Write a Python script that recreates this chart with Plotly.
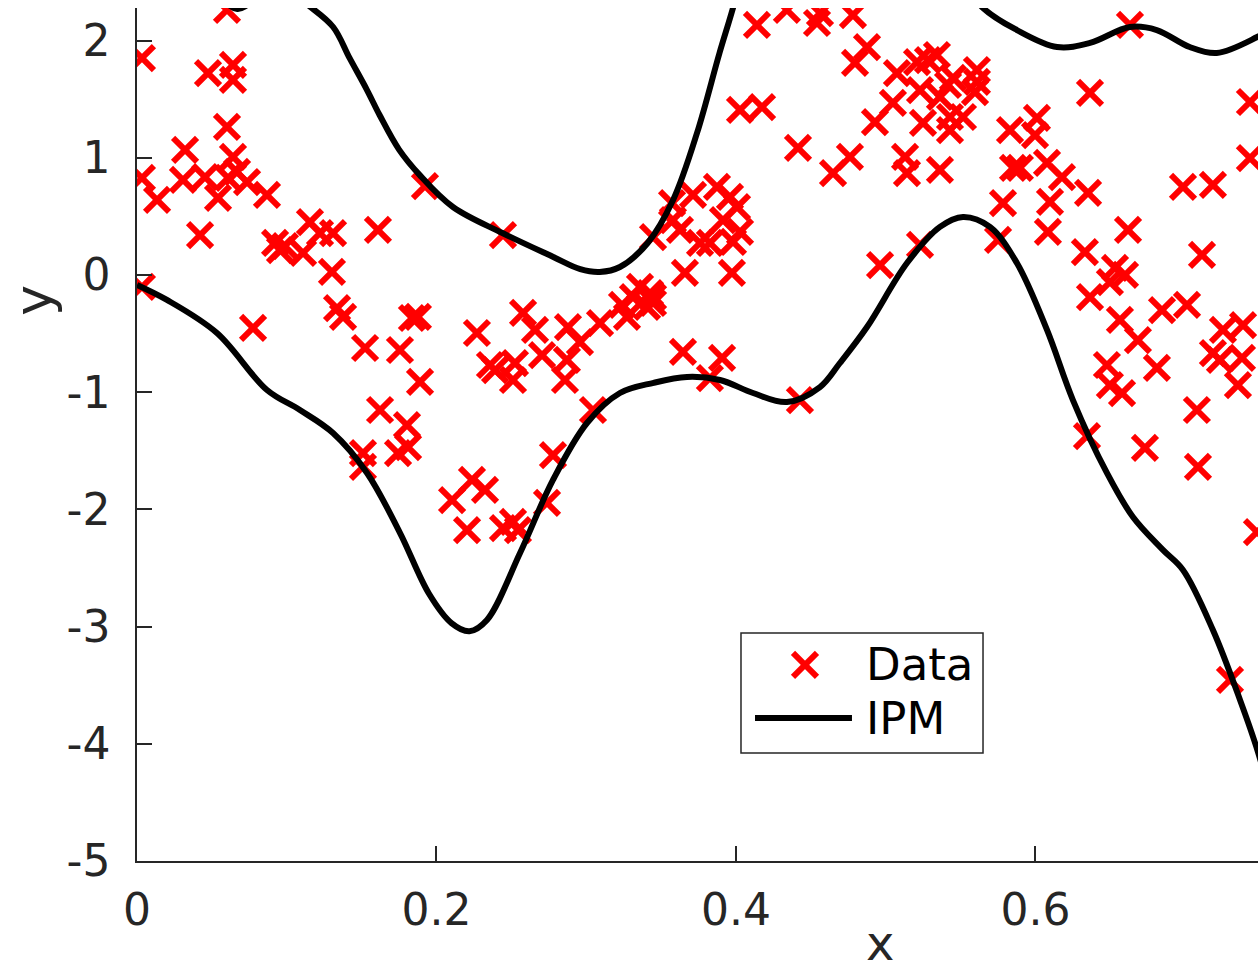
import plotly.graph_objects as go

# ---- scatter data (Data) ----
data_x = [0.0033,0.0601,0.0474,0.0641,0.0641,0.0601,0.0321,0.0033,0.0134,0.0307,0.0454,0.0541,0.0641,0.0668,0.0735,0.0608,0.0868,0.0421,0.0033,0.0922,0.0955,0.0988,0.1155,0.1222,0.1109,0.1309,0.1302,0.1609,0.0775,0.1336,0.1376,0.1523,0.1756,0.1836,0.1876,0.1890,0.1623,0.1803,0.1509,0.1509,0.1743,0.1810,0.1923,
          0.2444,0.2270,0.2357,0.2391,0.2524,0.2511,0.2578,0.2658,0.2705,0.2878,0.2871,0.2858,0.2958,0.3092,0.3272,0.3312,0.3426,0.3446,0.3359,0.3239,0.3406,0.3446,0.3045,0.3646,0.3907,0.3826,0.4427,0.2778,0.2237,0.2324,0.2104,0.2204,0.2444,0.2544,0.2511,0.2738,0.3873,0.3713,0.3573,0.3960,0.4007,0.3913,0.3579,0.3446,0.3626,0.3760,0.3826,0.3980,0.4027,0.3659,0.3973,0.4140,0.4340,0.4541,0.4561,0.4027,0.4174,0.4414,0.4648,0.4761,
          0.4781,0.4875,0.4795,0.5075,0.5209,0.5282,0.5342,0.5449,0.5609,0.5609,0.5229,0.5048,0.4928,0.5249,0.5429,0.5516,0.5429,0.5362,0.5830,0.6010,0.5997,0.5129,0.5142,0.5362,0.5850,0.5896,0.6077,0.6177,0.6351,0.5783,0.6097,0.5750,0.6083,0.6618,0.6330,0.6531,0.6598,0.6497,0.6364,0.4962,0.5229,0.6564,0.6845,0.7012,0.6684,0.7112,0.6985,0.7185,0.7432,0.7432,0.6364,0.6631,0.6477,0.6497,0.6578,0.6811,0.7252,0.7386,0.7185,0.7232,0.7379,0.7352,0.7078,0.6344,0.6731,0.7085,0.7479,0.7299,0.5596,0.5416]
data_y = [1.851,2.261,1.723,1.792,1.664,1.263,1.067,0.828,0.640,0.811,0.836,0.657,1.007,0.879,0.793,0.828,0.683,0.341,-0.102,0.273,0.213,0.247,0.452,0.358,0.188,0.358,0.026,0.384,-0.452,-0.282,-0.358,-0.623,-0.640,-0.367,-0.358,-0.913,-1.152,-1.280,-1.519,-1.638,-1.519,-1.468,0.759,
          0.341,-0.495,-0.768,-0.811,-0.751,-0.896,-0.324,-0.469,-0.683,-0.444,-0.725,-0.896,-0.572,-0.410,-0.358,-0.188,-0.154,-0.239,-0.102,-0.256,-0.273,-0.188,-1.152,-0.657,-0.708,-0.879,-1.067,-1.536,-1.749,-1.834,-1.920,-2.176,-2.159,-2.176,-2.107,-1.945,0.751,0.683,0.614,0.666,0.580,0.469,0.469,0.324,0.384,0.273,0.273,0.282,0.367,0.017,0.017,2.133,2.261,2.150,2.235,1.408,1.433,1.084,0.870,1.007,
          2.218,1.945,1.809,1.723,1.817,1.834,1.877,1.681,1.749,1.647,1.578,1.468,1.305,1.297,1.348,1.348,1.237,1.519,1.237,1.340,1.194,1.007,0.870,0.896,0.913,0.913,0.956,0.836,0.700,0.614,0.623,0.299,0.367,0.384,0.196,0.060,0.0,-0.060,-0.188,0.085,0.256,-0.384,-0.299,-0.256,-0.555,0.171,0.751,0.768,1.476,0.998,1.553,2.133,-0.768,-0.939,-1.007,-0.793,-0.469,-0.427,-0.666,-0.725,-0.708,-0.939,-1.152,-1.374,-1.476,-1.638,-2.193,-3.455,1.561,1.621]

# ---- IPM bounds ----
upper_x = [0.0, 0.029, 0.049, 0.067, 0.085, 0.1, 0.1155, 0.131, 0.142, 0.1536, 0.162, 0.175, 0.189, 0.211, 0.244, 0.278, 0.296, 0.309, 0.3225, 0.341, 0.358, 0.374, 0.389, 0.398, 0.41, 0.45, 0.5, 0.54, 0.565, 0.5876, 0.6144, 0.6364, 0.663, 0.681, 0.703, 0.721, 0.748, 0.76]
upper_y = [2.9, 2.65, 2.46, 2.27, 2.41, 2.43, 2.29, 2.116, 1.85, 1.578, 1.365, 1.07, 0.85, 0.58, 0.358, 0.154, 0.05, 0.026, 0.068, 0.273, 0.64, 1.212, 1.894, 2.278, 2.85, 3.6, 3.4, 2.7, 2.278, 2.09, 1.945, 1.98, 2.116, 2.09, 1.945, 1.894, 2.03, 2.12]
lower_x = [0.0, 0.02, 0.0534, 0.0868, 0.1088, 0.1309, 0.1536, 0.1756, 0.195, 0.21, 0.222, 0.2337, 0.2558, 0.2778, 0.3005, 0.3225, 0.345, 0.3673, 0.3893, 0.4114, 0.434, 0.4561, 0.4694, 0.4875, 0.5142, 0.5362, 0.5516, 0.5696, 0.5876, 0.6077, 0.625, 0.6477, 0.6651, 0.6851, 0.6985, 0.7185, 0.7366, 0.7486, 0.76]
lower_y = [-0.085, -0.213, -0.495, -0.981, -1.152, -1.348, -1.689, -2.2, -2.72, -2.97, -3.04, -2.944, -2.372, -1.749, -1.263, -1.007, -0.92, -0.870, -0.896, -1.007, -1.084, -0.956, -0.751, -0.444, 0.102, 0.41, 0.495, 0.41, 0.102, -0.469, -1.067, -1.689, -2.065, -2.346, -2.517, -3.029, -3.626, -4.07, -4.6]

x_ticks = [0, 0.2, 0.4, 0.6]
x_ticklabels = ["0", "0.2", "0.4", "0.6"]
y_ticks = [-5, -4, -3, -2, -1, 0, 1, 2]
y_ticklabels = ["-5", "-4", "-3", "-2", "-1", "0", "1", "2"]

FONT = "DejaVu Sans"
AX = "#262626"
RED = "#FF0000"
MSIZE = 24
MLW = 6

fig = go.Figure()
fig.add_trace(go.Scatter(x=data_x, y=data_y, mode="markers", name="Data", showlegend=False,
                         marker=dict(symbol="x-thin", size=MSIZE, color=RED, line=dict(width=MLW, color=RED))))
fig.add_trace(go.Scatter(x=upper_x, y=upper_y, mode="lines", name="IPM", showlegend=False,
                         line=dict(color="black", width=6, shape="spline", smoothing=1)))
fig.add_trace(go.Scatter(x=lower_x, y=lower_y, mode="lines", name="IPM", showlegend=False,
                         line=dict(color="black", width=6, shape="spline", smoothing=1)))

# legend marker on overlay axes (paper-like units)
fig.add_trace(go.Scatter(x=[0.5959], y=[0.2298], mode="markers", xaxis="x2", yaxis="y2", showlegend=False,
                         marker=dict(symbol="x-thin", size=MSIZE, color=RED, line=dict(width=MLW, color=RED))))

fig.update_layout(
    width=1258, height=971,
    margin=dict(l=137, r=0, t=8, b=110),
    plot_bgcolor="white", paper_bgcolor="white",
    showlegend=False,
    xaxis=dict(range=[0, 0.7486], tickvals=x_ticks, ticktext=x_ticklabels, ticks="inside", ticklen=15,
               tickwidth=1.5, tickcolor=AX, showline=True, linecolor=AX, linewidth=1.5,
               showgrid=False, zeroline=False, tickfont=dict(family=FONT, size=44, color=AX),
               ticklabelstandoff=9),
    yaxis=dict(range=[-5, 2.278], tickvals=y_ticks, ticktext=y_ticklabels, ticks="inside", ticklen=15,
               tickwidth=1.5, tickcolor=AX, showline=True, linecolor=AX, linewidth=1.5,
               showgrid=False, zeroline=False, tickfont=dict(family=FONT, size=44, color=AX),
               ticklabelstandoff=16),
    xaxis2=dict(range=[0, 1], overlaying="x", visible=False, fixedrange=True),
    yaxis2=dict(range=[0, 1], overlaying="y", visible=False, fixedrange=True),
    shapes=[
        dict(type="rect", xref="paper", yref="paper", x0=0.5388, x1=0.7547, y0=0.1266, y1=0.2673,
             line=dict(color=AX, width=1.5), fillcolor="white", layer="below"),
        dict(type="line", xref="paper", yref="paper", x0=0.5513, x1=0.6378, y0=0.1676, y1=0.1676,
             line=dict(color="black", width=6), layer="above"),
    ],
    annotations=[
        dict(text="x", xref="paper", yref="paper", x=0.6628, y=-0.096, showarrow=False,
             xanchor="center", yanchor="middle", font=dict(family=FONT, size=48, color=AX)),
        dict(text="y", xref="paper", yref="paper", x=-0.093, y=0.6577, showarrow=False, textangle=-90,
             xanchor="center", yanchor="middle", font=dict(family=FONT, size=52, color=AX)),
        dict(text="Data", xref="paper", yref="paper", x=0.6485, y=0.2298, showarrow=False,
             xanchor="left", yanchor="middle", font=dict(family=FONT, size=45, color="black")),
        dict(text="IPM", xref="paper", yref="paper", x=0.6485, y=0.1676, showarrow=False,
             xanchor="left", yanchor="middle", font=dict(family=FONT, size=45, color="black")),
    ],
)

fig.write_html("out.html")
